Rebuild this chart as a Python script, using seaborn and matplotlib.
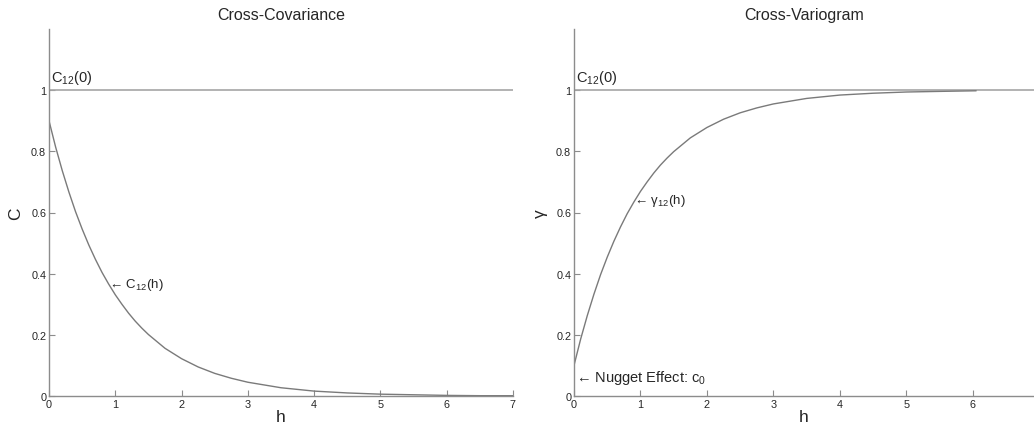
import matplotlib
matplotlib.use("Agg")
import matplotlib.pyplot as plt
import seaborn as sns
import pandas as pd

# ---- data ----
h_cov = [0, 0.1, 0.2, 0.3, 0.4, 0.5, 0.6, 0.7, 0.8, 0.9, 1.0, 1.1, 1.2, 1.3, 1.4, 1.5,
         1.75, 2.0, 2.25, 2.5, 2.75, 3.0, 3.5, 4.0, 4.5, 5.0, 5.5, 6.0, 6.5, 7.0]
c_cov = [0.900, 0.814, 0.737, 0.667, 0.603, 0.546, 0.494, 0.447, 0.404, 0.366, 0.331,
         0.300, 0.271, 0.245, 0.222, 0.201, 0.156, 0.122, 0.095, 0.074, 0.058, 0.045,
         0.027, 0.016, 0.010, 0.006, 0.004, 0.002, 0.001, 0.001]

h_var = [0, 0.1, 0.2, 0.3, 0.4, 0.5, 0.6, 0.7, 0.8, 0.9, 1.0, 1.1, 1.2, 1.3, 1.4, 1.5,
         1.75, 2.0, 2.25, 2.5, 2.75, 3.0, 3.5, 4.0, 4.5, 5.0, 5.5, 6.05]
g_var = [0.100, 0.186, 0.263, 0.333, 0.397, 0.454, 0.506, 0.553, 0.596, 0.634, 0.669,
         0.700, 0.729, 0.755, 0.778, 0.799, 0.844, 0.878, 0.905, 0.926, 0.942, 0.955,
         0.973, 0.984, 0.990, 0.994, 0.996, 0.998]

sill = 1.0
titles = ["Cross-Covariance", "Cross-Variogram"]
ylabels = ["C", "\u03b3"]
xticks_left = [0, 1, 2, 3, 4, 5, 6, 7]
xticks_right = [0, 1, 2, 3, 4, 5, 6]
yticks = [0, 0.2, 0.4, 0.6, 0.8, 1]
ytick_labels = ["0", "0.2", "0.4", "0.6", "0.8", "1"]

sns.set_theme(style="white")
plt.rcParams['font.family'] = ['Liberation Sans', 'DejaVu Sans']
plt.rcParams['mathtext.fontset'] = 'custom'
plt.rcParams['mathtext.rm'] = 'Liberation Sans'
plt.rcParams['mathtext.it'] = 'Liberation Sans:italic'

fig = plt.figure(figsize=(10.34, 4.31), dpi=100)
axL = fig.add_axes([49/1034, 1-397/431, (513-49)/1034, (397-30)/431])
axR = fig.add_axes([574/1034, 1-397/431, (1034-574)/1034, (397-30)/431])

curve_col = "#7a7a7a"
sill_col = "#a6a6a6"
spine_col = "#8c8c8c"

df_cov = pd.DataFrame({"h": h_cov, "C": c_cov})
df_var = pd.DataFrame({"h": h_var, "g": g_var})

sns.lineplot(data=df_cov, x="h", y="C", ax=axL, color=curve_col, lw=1.0,
             estimator=None, sort=False)
sns.lineplot(data=df_var, x="h", y="g", ax=axR, color=curve_col, lw=1.0,
             estimator=None, sort=False)

for ax, title, yl, xt, xmax in [(axL, titles[0], ylabels[0], xticks_left, 7.0),
                                (axR, titles[1], ylabels[1], xticks_right, 6.92)]:
    ax.axhline(sill, color=sill_col, lw=1.2, zorder=1)
    ax.set_xlim(0, xmax)
    ax.set_ylim(0, 1.2)
    ax.set_xticks(xt)
    ax.set_xticklabels([str(v) for v in xt])
    ax.set_yticks(yticks)
    ax.set_yticklabels(ytick_labels)
    ax.tick_params(direction="in", length=4, width=0.8, color=spine_col,
                   labelsize=7.8, pad=2, left=True, bottom=True)
    for s in ["top", "right"]:
        ax.spines[s].set_visible(False)
    for s in ["left", "bottom"]:
        ax.spines[s].set_color(spine_col)
        ax.spines[s].set_linewidth(1.0)
    ax.set_title(title, fontsize=11.5, pad=7)
    ax.set_xlabel("h", fontsize=12.5, labelpad=0)
    ax.set_ylabel(yl, fontsize=12.5, labelpad=6)
    ax.text(0.03, 1.015, r"$\mathregular{C_{12}}$(0)", fontsize=10.5,
            ha="left", va="bottom")

axL.text(0.9, 0.366, "\u2190 " + r"$\mathregular{C_{12}}$(h)", fontsize=9.5,
         ha="left", va="center")
axR.text(0.9, 0.64, "\u2190 " + r"$\mathregular{\gamma_{12}}$(h)", fontsize=9.5,
         ha="left", va="center")
axR.text(0.03, 0.062, "\u2190 Nugget Effect: " + r"$\mathregular{c_{0}}$", fontsize=10.5,
         ha="left", va="center")

fig.savefig("out.png", dpi=100)
